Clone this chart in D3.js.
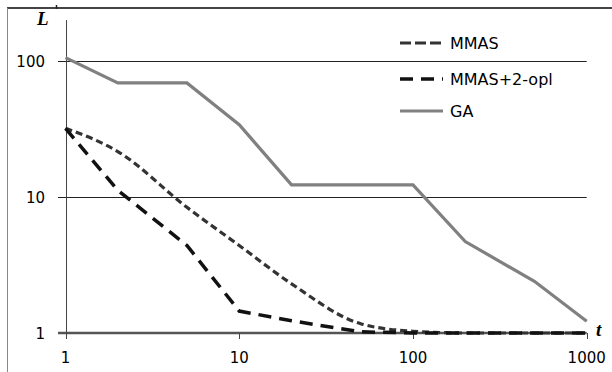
<!DOCTYPE html>
<html>
<head>
<meta charset="utf-8">
<script src="https://cdn.jsdelivr.net/npm/d3@7/dist/d3.min.js"></script>
<style>
  body { margin: 0; background: #fff; }
  svg { display: block; }
</style>
</head>
<body>
<div id="chart"></div>
<script>
// ---- data ----
const tValues = [1, 2, 5, 10, 20, 50, 100, 200, 500, 1000];
const mmas = [32, 21.6, 8.4, 4.4, 2.3, 1.17, 1.03, 1.0, 1.0, 1.0];
const mmas2opt = [32, 11.2, 4.4, 1.45, 1.23, 1.02, 1.0, 1.0, 1.0, 1.0];
const ga = [106, 69, 69, 34, 12.3, 12.3, 12.3, 4.7, 2.4, 1.22];
const seriesNames = ["MMAS", "MMAS+2-opl", "GA"];
const xTicks = [1, 10, 100, 1000];
const yTicks = [1, 10, 100];

const W = 612, H = 372;

const svg = d3.select('#chart')
    .append('svg')
    .attr('width', W)
    .attr('height', H);

// scales (log-log)
const x = d3.scaleLog().domain([1, 1000]).range([65.5, 586.7]);
const y = d3.scaleLog().domain([1, 200]).range([333, 20.1]);

// outer frame (only top and left edges visible)
svg.append('line')
    .attr('x1', 7).attr('x2', W).attr('y1', 8).attr('y2', 8)
    .attr('stroke', '#444').attr('stroke-width', 2);
svg.append('line')
    .attr('x1', 7.5).attr('x2', 7.5).attr('y1', 8).attr('y2', H)
    .attr('stroke', '#888').attr('stroke-width', 1);
svg.append('line')
    .attr('x1', 56.5).attr('x2', 56.5).attr('y1', 5).attr('y2', 9)
    .attr('stroke', '#222').attr('stroke-width', 1.5);

// horizontal gridlines + y ticks
const plot = svg.append('g');
yTicks.forEach(v => {
    const yy = v === 1 ? y(v) : Math.round(y(v)) + 0.5;
    plot.append('line')
        .attr('x1', 58).attr('x2', x(1000))
        .attr('y1', yy).attr('y2', yy)
        .attr('stroke', v === 1 ? '#555' : '#222')
        .attr('stroke-width', v === 1 ? 2.5 : 1);
});

// y axis line
plot.append('line')
    .attr('x1', Math.round(x(1)) + 0.5).attr('x2', Math.round(x(1)) + 0.5)
    .attr('y1', y(200)).attr('y2', y(1) + 6)
    .attr('stroke', '#444').attr('stroke-width', 1);

// x ticks
xTicks.forEach(v => {
    const xx = Math.round(x(v)) + 0.5;
    plot.append('line')
        .attr('x1', xx).attr('x2', xx)
        .attr('y1', y(1)).attr('y2', y(1) + 6)
        .attr('stroke', '#444').attr('stroke-width', 1);
});

// tick labels
svg.selectAll('.ylab')
    .data(yTicks)
    .join('text')
    .attr('class', 'ylab')
    .attr('x', 45)
    .attr('y', d => y(d) + 5.5)
    .attr('text-anchor', 'end')
    .style('font-family', 'DejaVu Sans, sans-serif')
    .style('font-size', '15px')
    .style('fill', '#000')
    .text(d => d);

svg.selectAll('.xlab')
    .data(xTicks)
    .join('text')
    .attr('class', 'xlab')
    .attr('x', d => x(d))
    .attr('y', 363)
    .attr('text-anchor', 'middle')
    .style('font-family', 'DejaVu Sans, sans-serif')
    .style('font-size', '15px')
    .style('fill', '#000')
    .text(d => d);

// axis names
svg.append('text')
    .attr('x', 37).attr('y', 25)
    .style('font-family', 'Liberation Serif, serif')
    .style('font-size', '19px')
    .style('font-weight', 'bold')
    .style('font-style', 'italic')
    .text('L');
svg.append('text')
    .attr('x', 596).attr('y', 336)
    .style('font-family', 'Liberation Serif, serif')
    .style('font-size', '19px')
    .style('font-weight', 'bold')
    .style('font-style', 'italic')
    .text('t');

// series
const styles = [
    { values: mmas, color: '#333', width: 3.2, dash: '7,4', curve: d3.curveMonotoneX },
    { values: mmas2opt, color: '#111', width: 3.5, dash: '13,8', curve: d3.curveLinear },
    { values: ga, color: '#808080', width: 3.2, dash: null, curve: d3.curveLinear }
];

styles.forEach(s => {
    const line = d3.line()
        .x((d, i) => x(tValues[i]))
        .y(d => y(d))
        .curve(s.curve);
    svg.append('path')
        .datum(s.values)
        .attr('fill', 'none')
        .attr('stroke', s.color)
        .attr('stroke-width', s.width)
        .attr('stroke-dasharray', s.dash)
        .attr('d', line);
});

// legend
const legendY = [43, 79, 111];
const legend = svg.append('g');
seriesNames.forEach((name, i) => {
    const s = styles[i];
    legend.append('line')
        .attr('x1', 400).attr('x2', 443)
        .attr('y1', legendY[i]).attr('y2', legendY[i])
        .attr('stroke', s.color)
        .attr('stroke-width', s.width)
        .attr('stroke-dasharray', i === 0 ? '11,4' : s.dash);
    legend.append('text')
        .attr('x', 450)
        .attr('y', legendY[i] + 6)
        .style('font-family', 'DejaVu Sans, sans-serif')
        .style('font-size', '16px')
        .style('fill', '#000')
        .text(name);
});
</script>
</body>
</html>
